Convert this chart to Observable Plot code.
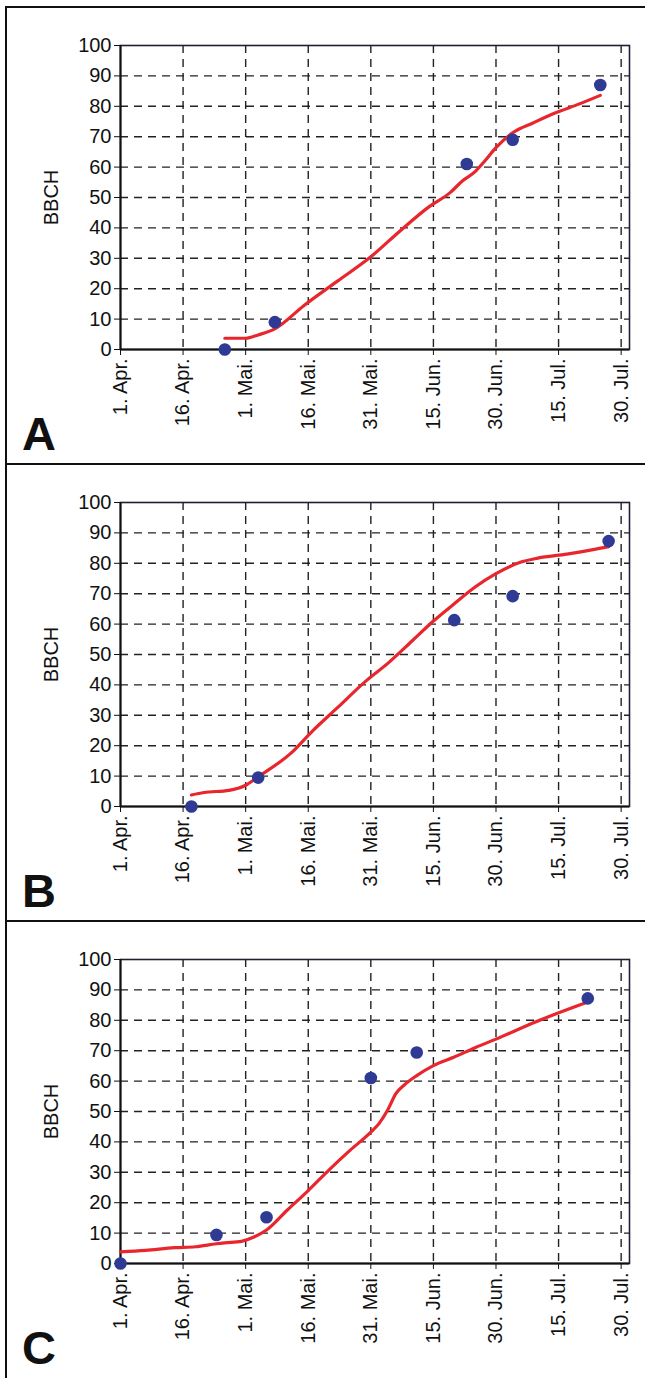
<!DOCTYPE html>
<html>
<head>
<meta charset="utf-8">
<script src="https://cdn.jsdelivr.net/npm/d3@7"></script>
<script src="https://cdn.jsdelivr.net/npm/@observablehq/plot@0.6"></script>
<style>
  body { margin: 0; background: #fff; font-family: "Liberation Sans", Arial, sans-serif; }
  #wrap { position: relative; width: 645px; height: 1378px; overflow: hidden; background: #fff; }
  .panel { position: absolute; left: 0; width: 645px; height: 457px; }
  .border { position: absolute; left: 5px; top: 0; width: 700px; height: 470px; border-top: 2px solid #111; border-left: 2px solid #111; box-sizing: border-box; }
  .panel svg { position: absolute; left: 0; top: 0; }
  .letter { position: absolute; left: 22px; top: 404px; font-weight: bold; font-size: 47px; line-height: 1; color: #111; }
</style>
</head>
<body>
<div id="wrap"></div>
<script>
// ---- data ----
const panelLetters = ["A", "B", "C"];
const xStart = "2000-04-01";
const xEnd = "2000-08-01";
const tickDates = ["2000-04-01", "2000-04-16", "2000-05-01", "2000-05-16", "2000-05-31", "2000-06-15", "2000-06-30", "2000-07-15", "2000-07-30"];
const tickLabels = ["1. Apr.", "16. Apr.", "1. Mai.", "16. Mai.", "31. Mai.", "15. Jun.", "30. Jun.", "15. Jul.", "30. Jul."];
const yTicks = [0, 10, 20, 30, 40, 50, 60, 70, 80, 90, 100];
const yLabel = "BBCH";

// Panel A
const aDotDates = ["2000-04-26", "2000-05-08", "2000-06-23", "2000-07-04", "2000-07-25"];
const aDotValues = [0, 9, 61, 69, 87];
const aLineDates = ["2000-04-26", "2000-05-01", "2000-05-04", "2000-05-08", "2000-05-15", "2000-05-23", "2000-05-31", "2000-06-07", "2000-06-14", "2000-06-19", "2000-06-22", "2000-06-25", "2000-06-27", "2000-06-30", "2000-07-04", "2000-07-09", "2000-07-14", "2000-07-20", "2000-07-25"];
const aLineValues = [3.7, 3.7, 4.8, 6.8, 14.5, 22.5, 30.5, 39, 47, 51.6, 55.5, 58.5, 61.5, 66.4, 71.3, 74.6, 77.7, 80.8, 83.6];

// Panel B
const bDotDates = ["2000-04-18", "2000-05-04", "2000-06-20", "2000-07-04", "2000-07-27"];
const bDotValues = [0, 9.5, 61.3, 69.2, 87.3];
const bLineDates = ["2000-04-18", "2000-04-21", "2000-04-27", "2000-05-01", "2000-05-04", "2000-05-12", "2000-05-17", "2000-05-23", "2000-05-30", "2000-06-04", "2000-06-10", "2000-06-15", "2000-06-20", "2000-06-25", "2000-06-30", "2000-07-06", "2000-07-10", "2000-07-17", "2000-07-27"];
const bLineValues = [3.8, 4.6, 5.3, 7, 9.8, 17.7, 24.8, 32.5, 41.5, 47, 54.6, 61, 66.7, 72.2, 76.6, 80.4, 81.7, 83, 85.5];

// Panel C
const cDotDates = ["2000-04-01", "2000-04-24", "2000-05-06", "2000-05-31", "2000-06-11", "2000-07-22"];
const cDotValues = [0, 9.4, 15.2, 61, 69.4, 87.2];
const cLineDates = ["2000-04-01", "2000-04-07", "2000-04-14", "2000-04-19", "2000-04-24", "2000-04-26", "2000-04-30", "2000-05-03", "2000-05-06", "2000-05-11", "2000-05-16", "2000-05-21", "2000-05-26", "2000-05-31", "2000-06-02", "2000-06-04", "2000-06-06", "2000-06-08", "2000-06-11", "2000-06-15", "2000-06-20", "2000-06-25", "2000-06-30", "2000-07-09", "2000-07-22"];
const cLineValues = [3.8, 4.3, 5.2, 5.5, 6.5, 6.8, 7.3, 8.7, 11, 17.6, 24, 30.8, 37.2, 43.2, 46.1, 50.4, 55.9, 58.7, 61.8, 65.1, 67.9, 71, 73.8, 79.2, 86];

// ---- build ----
const parse = s => new Date(s + "T00:00:00Z");
const ticks = tickDates.map(parse);
const labelMap = new Map(ticks.map((d, i) => [+d, tickLabels[i]]));
const gridY = yTicks.filter(v => v > 0 && v < 100);
const FS = 20;

const series = [
  {dots: aDotDates.map((d, i) => ({date: parse(d), v: aDotValues[i]})), line: aLineDates.map((d, i) => ({date: parse(d), v: aLineValues[i]}))},
  {dots: bDotDates.map((d, i) => ({date: parse(d), v: bDotValues[i]})), line: bLineDates.map((d, i) => ({date: parse(d), v: bLineValues[i]}))},
  {dots: cDotDates.map((d, i) => ({date: parse(d), v: cDotValues[i]})), line: cLineDates.map((d, i) => ({date: parse(d), v: cLineValues[i]}))}
];

const wrap = document.getElementById("wrap");
series.forEach((s, i) => {
  const panel = document.createElement("div");
  panel.className = "panel";
  panel.style.top = (6 + 457 * i) + "px";
  const border = document.createElement("div");
  border.className = "border";
  panel.appendChild(border);

  const chart = Plot.plot({
    width: 645,
    height: 457,
    marginLeft: 120,
    marginRight: 16,
    marginTop: 39,
    marginBottom: 114,
    style: {fontFamily: "Liberation Sans, Arial, sans-serif", fontSize: FS + "px", color: "#111", background: "transparent", overflow: "visible"},
    x: {type: "utc", domain: [parse(xStart), parse(xEnd)]},
    y: {domain: [0, 100]},
    marks: [
      Plot.ruleY(gridY, {stroke: "#222", strokeWidth: 1.4, strokeDasharray: "8,6"}),
      Plot.ruleX(ticks.slice(1), {stroke: "#222", strokeWidth: 1.4, strokeDasharray: "8,6"}),
      Plot.frame({stroke: "#1f1f33", strokeWidth: 1.6}),
      Plot.axisX(ticks, {tickFormat: d => labelMap.get(+d), tickRotate: -90, tickSize: 6, tickPadding: 3, fontSize: FS, label: null, stroke: "#111", fill: "#111"}),
      Plot.axisY(yTicks, {tickSize: 6, tickPadding: 3, fontSize: FS, label: null, stroke: "#111", fill: "#111"}),
      Plot.ruleY([0], {stroke: "#111", strokeWidth: 2}),
      Plot.ruleX([parse(xStart)], {stroke: "#111", strokeWidth: 2}),
      Plot.line(s.line, {x: "date", y: "v", stroke: "#e8262d", strokeWidth: 3.2, curve: "monotone-x"}),
      Plot.dot(s.dots, {x: "date", y: "v", r: 6.3, fill: "#2e3a94", stroke: "none"}),
      Plot.text([yLabel], {frameAnchor: "left", dx: -69, rotate: -90, textAnchor: "middle", lineAnchor: "middle", fontSize: FS, fill: "#111"})
    ]
  });
  panel.appendChild(chart);

  const letter = document.createElement("div");
  letter.className = "letter";
  letter.textContent = panelLetters[i];
  panel.appendChild(letter);
  wrap.appendChild(panel);
});
</script>
</body>
</html>
